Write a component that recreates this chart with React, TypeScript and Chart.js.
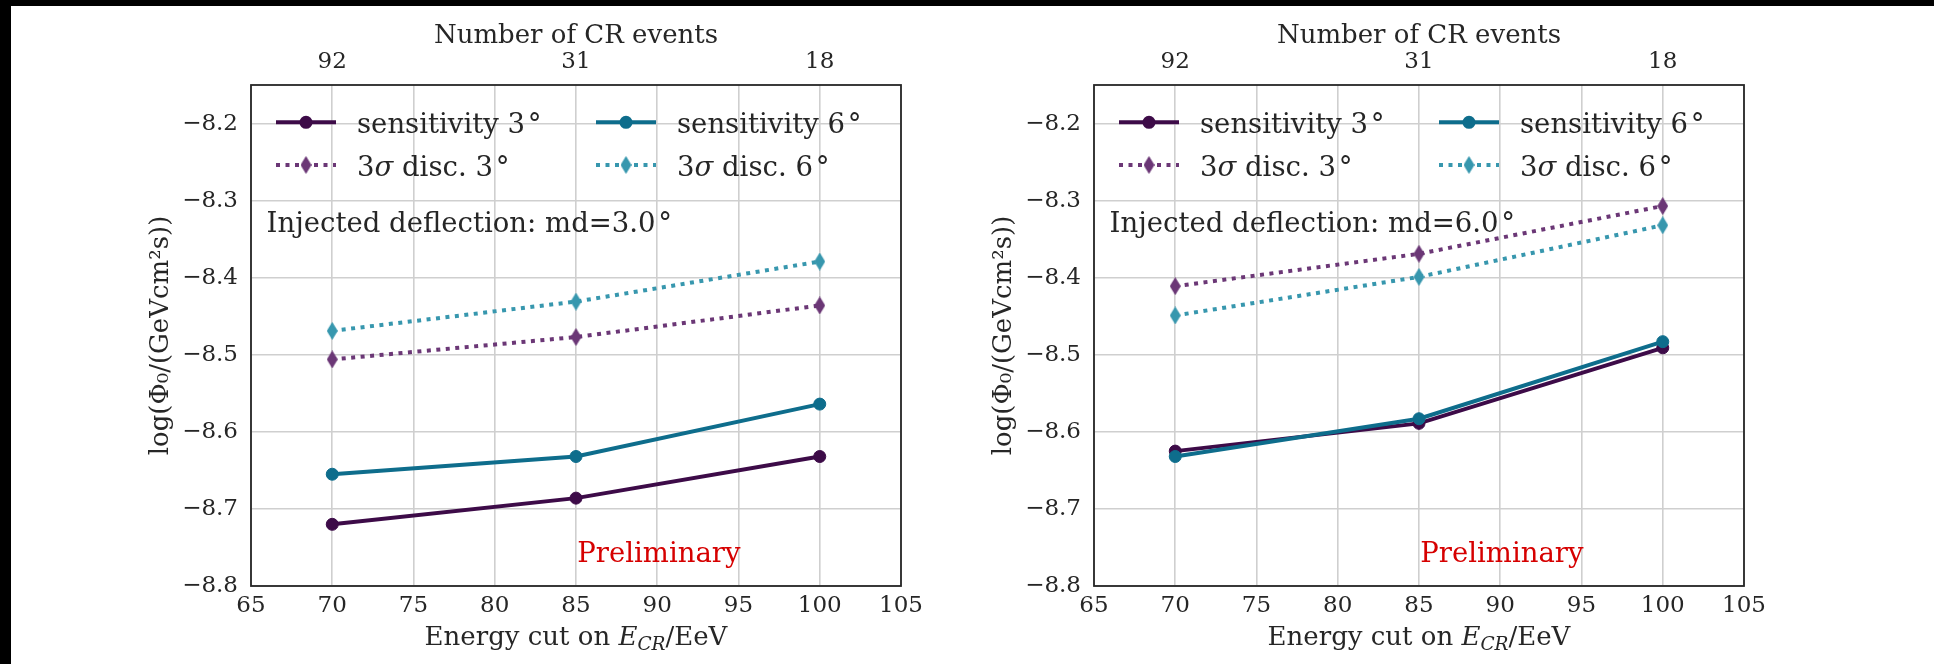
import React, { useEffect, useRef } from 'react';
import { Chart, registerables } from 'chart.js';
Chart.register(...registerables);

// ---- data ----
const energies = [70, 85, 100];
const crEvents = ['92', '31', '18'];
const xTickValues = [65, 70, 75, 80, 85, 90, 95, 100, 105];
const yTickValues = [-8.8, -8.7, -8.6, -8.5, -8.4, -8.3, -8.2];

const sens3Md3 = [-8.720, -8.686, -8.632];
const sens6Md3 = [-8.655, -8.632, -8.564];
const disc3Md3 = [-8.506, -8.477, -8.436];
const disc6Md3 = [-8.469, -8.431, -8.379];

const sens3Md6 = [-8.625, -8.589, -8.491];
const sens6Md6 = [-8.632, -8.583, -8.483];
const disc3Md6 = [-8.411, -8.369, -8.307];
const disc6Md6 = [-8.449, -8.399, -8.332];

const panelLabels = ['Injected deflection: md=3.0', 'Injected deflection: md=6.0'];

// ---- styles ----
const FONT = '"DejaVu Serif", serif';
const TEXT = '#262626';
const C_S3 = '#3d0b48';
const C_S6 = '#0e6d8c';
const C_D3 = '#6b3776';
const C_D6 = '#3797ae';
const DOT = [4, 5.5];
const LW = 4;

type Seg = { t: string; italic?: boolean; size?: number; dy?: number };

function drawRich(ctx: CanvasRenderingContext2D, segs: Seg[], x: number, y: number, base: number, align: 'left' | 'center', color: string) {
  const fonts = segs.map((s) => `${s.italic ? 'italic ' : ''}${s.size ?? base}px ${FONT}`);
  const widths = segs.map((s, i) => {
    ctx.font = fonts[i];
    return ctx.measureText(s.t).width;
  });
  const total = widths.reduce((a, b) => a + b, 0);
  let cx = align === 'center' ? x - total / 2 : x;
  ctx.fillStyle = color;
  ctx.textAlign = 'left';
  ctx.textBaseline = 'alphabetic';
  segs.forEach((s, i) => {
    ctx.font = fonts[i];
    ctx.fillText(s.t, cx, y + (s.dy ?? 0));
    cx += widths[i];
  });
}

function makeDiamond(color: string) {
  const c = document.createElement('canvas');
  c.width = 11;
  c.height = 18;
  const g = c.getContext('2d')!;
  g.fillStyle = color;
  g.beginPath();
  g.moveTo(5.5, 0);
  g.lineTo(11, 9);
  g.lineTo(5.5, 18);
  g.lineTo(0, 9);
  g.closePath();
  g.fill();
  return c;
}

function buildChart(canvas: HTMLCanvasElement, s3: number[], s6: number[], d3: number[], d6: number[], label: string) {
  const dia3 = makeDiamond(C_D3);
  const dia6 = makeDiamond(C_D6);
  const pts = (vals: number[]) => energies.map((x, i) => ({ x, y: vals[i] }));
  const solid = (lab: string, vals: number[], c: string, order: number) => ({
    label: lab,
    data: pts(vals),
    borderColor: c,
    backgroundColor: c,
    borderWidth: LW,
    pointStyle: 'circle',
    pointRadius: 6,
    pointBorderWidth: 1,
    pointBackgroundColor: c,
    pointBorderColor: c,
    order,
  });
  const dotted = (lab: string, vals: number[], c: string, img: HTMLCanvasElement, order: number) => ({
    label: lab,
    data: pts(vals),
    borderColor: c,
    backgroundColor: c,
    borderWidth: LW,
    borderDash: DOT,
    pointStyle: img,
    pointRadius: 8,
    order,
  });

  const legendItems = [
    { segs: [{ t: 'sensitivity 3\u200a°' }], color: C_S3, dotted: false, img: null as any, col: 0, row: 0 },
    { segs: [{ t: 'sensitivity 6\u200a°' }], color: C_S6, dotted: false, img: null as any, col: 1, row: 0 },
    { segs: [{ t: '3' }, { t: 'σ', italic: true }, { t: ' disc. 3\u200a°' }], color: C_D3, dotted: true, img: dia3, col: 0, row: 1 },
    { segs: [{ t: '3' }, { t: 'σ', italic: true }, { t: ' disc. 6\u200a°' }], color: C_D6, dotted: true, img: dia6, col: 1, row: 1 },
  ];

  const decor = {
    id: 'decor',
    afterDraw(chart: any) {
      const ctx: CanvasRenderingContext2D = chart.ctx;
      const a = chart.chartArea;
      ctx.save();
      // frame
      ctx.strokeStyle = TEXT;
      ctx.lineWidth = 1.8;
      ctx.setLineDash([]);
      ctx.strokeRect(a.left, a.top, a.right - a.left, a.bottom - a.top);
      // legend
      const colLine = [25, 345];
      const colText = [106, 426];
      const rowLine = [37.3, 80];
      const rowBase = [48.3, 90.7];
      legendItems.forEach((it) => {
        const x1 = a.left + colLine[it.col];
        const y = a.top + rowLine[it.row];
        ctx.strokeStyle = it.color;
        ctx.lineWidth = LW;
        ctx.setLineDash(it.dotted ? DOT : []);
        ctx.beginPath();
        ctx.moveTo(x1, y);
        ctx.lineTo(x1 + 60, y);
        ctx.stroke();
        ctx.setLineDash([]);
        if (it.dotted) {
          ctx.drawImage(it.img, x1 + 30 - it.img.width / 2, y - it.img.height / 2);
        } else {
          ctx.fillStyle = it.color;
          ctx.beginPath();
          ctx.arc(x1 + 30, y, 6.5, 0, Math.PI * 2);
          ctx.fill();
        }
        drawRich(ctx, it.segs, a.left + colText[it.col], a.top + rowBase[it.row], 27.5, 'left', TEXT);
      });
      // annotation
      drawRich(ctx, [{ t: label + '\u200a°' }], a.left + 15.6, a.top + 146.7, 27.5, 'left', TEXT);
      drawRich(ctx, [{ t: 'Preliminary' }], a.left + 326.3, a.top + 477.3, 27.5, 'left', '#d60000');
      // x title
      drawRich(
        ctx,
        [{ t: 'Energy cut on ' }, { t: 'E', italic: true }, { t: 'CR', italic: true, size: 18.5, dy: 5 }, { t: '/EeV' }],
        (a.left + a.right) / 2,
        a.bottom + 59,
        26,
        'center',
        TEXT
      );
      ctx.restore();
    },
  };

  const tickFont = { family: FONT, size: 23 };
  return new Chart(canvas, {
    type: 'line',
    data: {
      datasets: [
        solid('sensitivity 3°', s3, C_S3, 4),
        solid('sensitivity 6°', s6, C_S6, 3),
        dotted('3σ disc. 3°', d3, C_D3, dia3, 2),
        dotted('3σ disc. 6°', d6, C_D6, dia6, 1),
      ] as any,
    },
    options: {
      animation: false,
      responsive: false,
      events: [],
      layout: { padding: { left: 0, top: 0, right: 66, bottom: 0 } },
      plugins: { legend: { display: false }, tooltip: { enabled: false } },
      scales: {
        x: {
          type: 'linear',
          position: 'bottom',
          min: 65,
          max: 105,
          afterBuildTicks: (s: any) => {
            s.ticks = xTickValues.map((v) => ({ value: v }));
          },
          afterFit: (s: any) => {
            s.height = 78;
          },
          grid: { color: '#cfcfcf', lineWidth: 1.6, drawTicks: false },
          border: { display: false },
          ticks: { font: tickFont, color: TEXT, padding: 6, maxRotation: 0, callback: (v: any) => String(v) },
        },
        x2: {
          type: 'linear',
          position: 'top',
          min: 65,
          max: 105,
          afterBuildTicks: (s: any) => {
            s.ticks = energies.map((v) => ({ value: v }));
          },
          afterFit: (s: any) => {
            s.height = 85;
          },
          grid: { display: false, drawTicks: false },
          border: { display: false },
          ticks: { font: tickFont, color: TEXT, padding: 9, maxRotation: 0, callback: (_v: any, i: number) => crEvents[i] },
          title: { display: true, text: 'Number of CR events', font: { family: FONT, size: 26 }, color: TEXT, padding: { top: 21, bottom: 0 } },
        },
        y: {
          type: 'linear',
          position: 'left',
          min: -8.8,
          max: -8.15,
          afterBuildTicks: (s: any) => {
            s.ticks = yTickValues.map((v) => ({ value: v }));
          },
          afterFit: (s: any) => {
            s.width = 251;
          },
          grid: { color: '#cfcfcf', lineWidth: 1.6, drawTicks: false },
          border: { display: false },
          ticks: { font: tickFont, color: TEXT, padding: 13, callback: (v: any) => Number(v).toFixed(1).replace('-', '\u2212') },
          title: { display: true, text: 'log(Φ₀/(GeVcm²s))', font: { family: FONT, size: 26 }, color: TEXT, padding: { top: 146, bottom: 0 } },
        },
      },
    } as any,
    plugins: [decor as any],
  });
}

export default function App() {
  const ref1 = useRef<HTMLCanvasElement>(null);
  const ref2 = useRef<HTMLCanvasElement>(null);
  useEffect(() => {
    const c1 = buildChart(ref1.current!, sens3Md3, sens6Md3, disc3Md3, disc6Md3, panelLabels[0]);
    const c2 = buildChart(ref2.current!, sens3Md6, sens6Md6, disc3Md6, disc6Md6, panelLabels[1]);
    return () => {
      c1.destroy();
      c2.destroy();
    };
  }, []);
  return (
    <div style={{ position: 'fixed', left: 0, top: 0, width: 1934, height: 664, background: '#fff', overflow: 'hidden' }}>
      <canvas ref={ref1} width={967} height={664} style={{ position: 'absolute', left: 0, top: 0, width: 967, height: 664 }} />
      <canvas ref={ref2} width={967} height={664} style={{ position: 'absolute', left: 843, top: 0, width: 967, height: 664 }} />
      <div style={{ position: 'absolute', left: 0, top: 0, width: 1934, height: 6, background: '#000' }} />
      <div style={{ position: 'absolute', left: 0, top: 0, width: 11, height: 664, background: '#000' }} />
    </div>
  );
}
